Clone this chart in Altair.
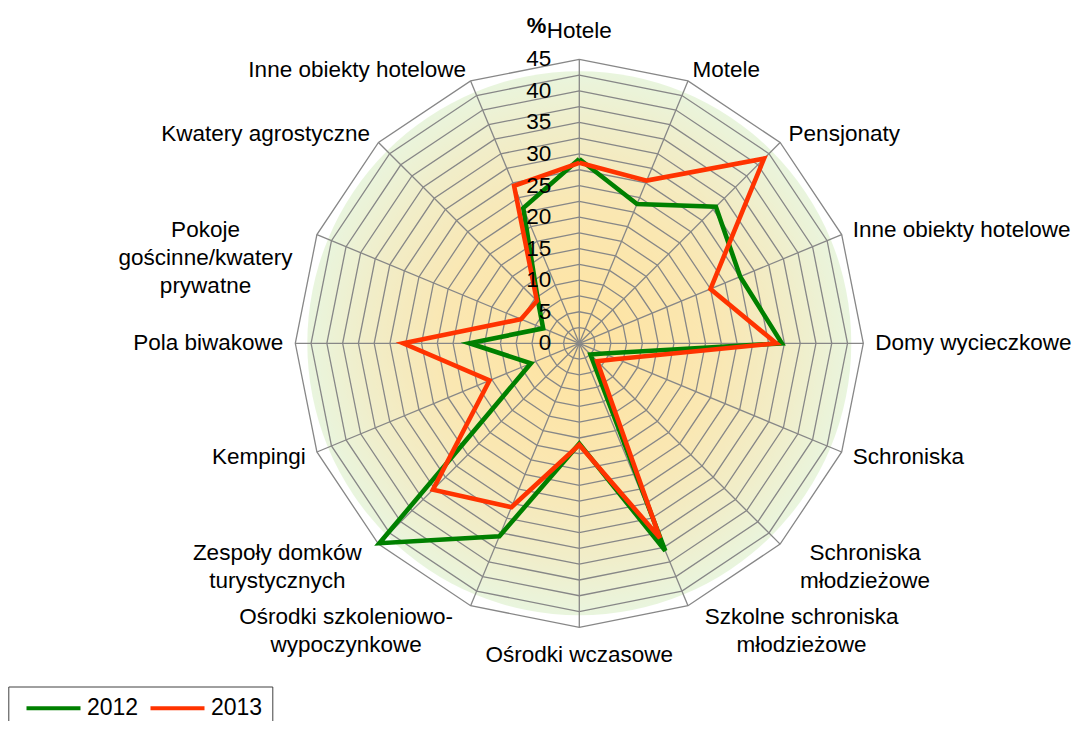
import math
import altair as alt
import pandas as pd

# ---------------- data ----------------
categories = [
    "Hotele", "Motele", "Pensjonaty", "Inne obiekty hotelowe", "Domy wycieczkowe",
    "Schroniska", "Schroniska młodzieżowe", "Szkolne schroniska młodzieżowe",
    "Ośrodki wczasowe", "Ośrodki szkoleniowo-wypoczynkowe", "Zespoły domków turystycznych",
    "Kempingi", "Pola biwakowe", "Pokoje gościnne/kwatery prywatne",
    "Kwatery agrostyczne", "Inne obiekty hotelowe",
]
label_text = [
    "Hotele", "Motele", "Pensjonaty", "Inne obiekty hotelowe", "Domy wycieczkowe",
    "Schroniska", "Schroniska\nmłodzieżowe", "Szkolne schroniska\nmłodzieżowe",
    "Ośrodki wczasowe", "Ośrodki szkoleniowo-\nwypoczynkowe", "Zespoły domków\nturystycznych",
    "Kempingi", "Pola biwakowe", "Pokoje\ngościnne/kwatery\nprywatne",
    "Kwatery agrostyczne", "Inne obiekty hotelowe",
]
values_2012 = [29.2, 23.9, 30.6, 27.6, 32.1, 4.2, 2.5, 35.6, 15.9, 33.1, 44.8, 8.3, 17.4, 6.2, 9.2, 23.2]
values_2013 = [28.6, 27.9, 41.4, 22.5, 31.2, 6.5, 4.0, 33.4, 16.1, 28.1, 32.8, 15.4, 27.9, 10.0, 9.5, 27.0]
series = ["2012", "2013"]
series_colors = ["#008000", "#FF3300"]
tick_values = [0, 5, 10, 15, 20, 25, 30, 35, 40, 45]
ring_values = [2.5 * k for k in range(1, 19)]

# ---------------- geometry ----------------
N = len(categories)
RMAX = 45
K = 284 / RMAX            # pixels per unit
W, H = 1070, 713
CX, CY = 571.3, 335.3     # centre of the radar in plot coordinates
xs = alt.Scale(domain=[-CX / K, (W - CX) / K], nice=False, zero=False)
ys = alt.Scale(domain=[-(H - CY) / K, CY / K], nice=False, zero=False)
ANG = f"datum.i * 2 * PI / {N}"
FONT = "Liberation Sans"
GRID = "#878787"
FS = 22.5

def X(f):
    return alt.X(f, type="quantitative", scale=xs, axis=None)

def Y(f):
    return alt.Y(f, type="quantitative", scale=ys, axis=None)

# series lines (closed)
rows = []
for name, vals in zip(series, [values_2012, values_2013]):
    for i, v in enumerate(vals + vals[:1]):
        rows.append({"series": name, "i": i, "value": v})
lines_df = pd.DataFrame(rows)

ring_df = pd.DataFrame([{"ring": r, "i": i} for r in ring_values for i in range(N + 1)])
spoke_df = pd.DataFrame({"i": list(range(N)), "r": [RMAX] * N})
bg_df = pd.DataFrame({"x": [0], "y": [0]})
tick_df = pd.DataFrame({"t": tick_values, "label": [str(t) for t in tick_values]})
lab_df = pd.DataFrame({
    "i": list(range(N)),
    "label": label_text,
    "nlines": [len(t.split("\n")) for t in label_text],
    "maxlen": [max(len(p) for p in t.split("\n")) for t in label_text],
})

background = alt.Chart(bg_df).mark_point(
    shape="circle", filled=True, size=(2 * 272) ** 2, opacity=1, strokeWidth=0,
    fill=alt.RadialGradient(
        gradient="radial",
        stops=[
            alt.GradientStop(offset=0, color="#FFE3A0"),
            alt.GradientStop(offset=0.5, color="#FAE7B2"),
            alt.GradientStop(offset=0.78, color="#F1EDC8"),
            alt.GradientStop(offset=1, color="#E9F5DE"),
        ],
        x1=0.5, y1=0.5, r1=0, x2=0.5, y2=0.5, r2=0.5,
    ),
).encode(x=X("x"), y=Y("y"))

rings = alt.Chart(ring_df).transform_calculate(
    px=f"datum.ring * sin({ANG})", py=f"datum.ring * cos({ANG})"
).mark_line(color=GRID, strokeWidth=1.3).encode(
    x=X("px"), y=Y("py"), detail="ring:N", order="i:Q"
)

spokes = alt.Chart(spoke_df).transform_calculate(
    px=f"datum.r * sin({ANG})", py=f"datum.r * cos({ANG})", z="0"
).mark_rule(color=GRID, strokeWidth=1.3).encode(
    x=X("z"), y=Y("z"), x2="px:Q", y2="py:Q"
)

radar = alt.Chart(lines_df).transform_calculate(
    px=f"datum.value * sin({ANG})", py=f"datum.value * cos({ANG})"
).mark_line(strokeWidth=4.6).encode(
    x=X("px"), y=Y("py"), order="i:Q",
    color=alt.Color(
        "series:N",
        scale=alt.Scale(domain=series, range=series_colors),
        legend=alt.Legend(
            title=None, orient="none", legendX=0.3, legendY=678.5,
            direction="horizontal", symbolType="M-3,0H3", symbolStrokeWidth=4,
            symbolSize=18 ** 2, labelFontSize=23, labelFont=FONT, labelColor="#000000",
            strokeColor="#404040", padding=10, symbolOffset=23.7,
            columnPadding=4, labelOffset=22,
        ),
    ),
)

ticks = alt.Chart(tick_df).transform_calculate(z="0").mark_text(
    align="right", baseline="middle", dx=-28, fontSize=FS, font=FONT, color="#000000"
).encode(x=X("z"), y=Y("t"), text="label:N")

pct = alt.Chart(pd.DataFrame({"y": [RMAX]})).transform_calculate(z="0").mark_text(
    text="%", align="right", baseline="middle", dx=-33, dy=-33,
    fontSize=22, fontWeight="bold", font=FONT, color="#000000"
).encode(x=X("z"), y=Y("y"))

lab_base = alt.Chart(lab_df).transform_calculate(
    s=f"sin({ANG})", c=f"cos({ANG})", s2=f"abs(sin(2 * {ANG}))"
).transform_calculate(
    side="abs(datum.s) < 0.1 ? 0 : (datum.s > 0 ? 1 : -1)",
).transform_calculate(
    ly=f"{RMAX} * datum.c + (datum.side == 0 ? 28 : 12) * datum.c / {K}",
    lx=(
        f"{RMAX} * datum.s + (datum.nlines > 1 ? (16 * datum.s + datum.side * 14 * datum.s2) : 12 * datum.s) / {K}"
        f" + (datum.nlines > 1 ? datum.side * datum.maxlen * {5.3 * FS / 22} / {K} : 0)"
    ),
)

def label_layer(filt, align):
    return lab_base.transform_filter(filt).mark_text(
        align=align, baseline="middle", lineBreak="\n", lineHeight=28,
        fontSize=FS, font=FONT, color="#000000"
    ).encode(x=X("lx"), y=Y("ly"), text="label:N")

labels_left = label_layer("datum.side == 1 && datum.nlines == 1", "left")
labels_right = label_layer("datum.side == -1 && datum.nlines == 1", "right")
labels_center = label_layer("datum.side == 0 || datum.nlines > 1", "center")

chart = alt.layer(
    background, rings, spokes, radar, ticks, pct, labels_left, labels_right, labels_center
).properties(
    width=W, height=H, padding=0, autosize="none"
).configure(font=FONT).configure_view(stroke=None)

chart.save("out.html", embed_options={"renderer": "svg", "actions": False})
